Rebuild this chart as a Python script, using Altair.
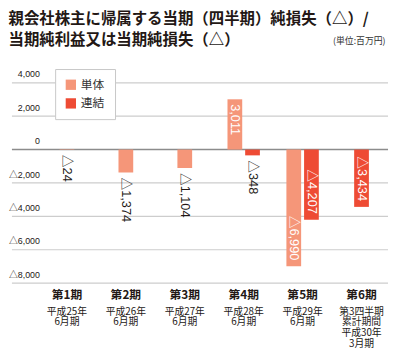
import altair as alt
import pandas as pd

# ---- data ----
periods = ["第1期", "第2期", "第3期", "第4期", "第5期", "第6期"]
period_sub = ["平成25年|6月期", "平成26年|6月期", "平成27年|6月期",
              "平成28年|6月期", "平成29年|6月期", "第3四半期|累計期間|平成30年|3月期"]
series_names = ["単体", "連結"]
tantai = [-24, -1374, -1104, 3011, -6990, None]
renketsu = [None, None, None, -348, -4207, -3434]
y_ticks = [-8000, -6000, -4000, -2000, 0, 2000, 4000]

rows = []
for i, p in enumerate(periods):
    pair = tantai[i] is not None and renketsu[i] is not None
    for name, vals, side in (("単体", tantai, "L"), ("連結", renketsu, "R")):
        v = vals[i]
        if v is None:
            continue
        rows.append({"period": p, "series": name, "v": v, "slot": side if pair else "C"})
df = pd.DataFrame(rows)
sub_df = pd.DataFrame({"period": periods, "sub": period_sub})
grid_df = pd.DataFrame({"v": y_ticks})

FONT = "Noto Sans CJK JP"
NUMFONT = "Liberation Sans, Noto Sans CJK JP"
DARK = "#231815"
W, H = 383, 221

x_scale = alt.Scale(type="band", domain=periods, paddingInner=1/6, paddingOuter=0.275, align=0.94)
x_main = alt.X("period:N", sort=periods, scale=x_scale,
               axis=alt.Axis(title=None, domain=False, ticks=False, grid=False,
                             labelAngle=0, labelFont=FONT, labelFontSize=12,
                             labelFontWeight="bold", labelColor=DARK, labelPadding=7,
                             labelBaseline="top"))
y_axis = alt.Axis(values=y_ticks, grid=False,
                  domain=False, ticks=False, tickSize=0, labelOverlap=False,
                  labelAlign="right", labelPadding=-28, labelBaseline="alphabetic",
                  labelOffset=-6, labelFont=NUMFONT, labelFontSize=9, labelColor=DARK,
                  labelExpr="datum.value < 0 ? '△' + format(-datum.value, ',') : format(datum.value, ',')",
                  title="(単位:百万円)", titleAngle=0, titleAlign="right",
                  titleBaseline="alphabetic", titleX=380, titleY=-23,
                  titleFont=FONT, titleFontSize=9, titleFontWeight="normal",
                  titleColor="#333333")
y_scale = alt.Scale(domain=[-8000, 5000], nice=False, zero=False)
y_enc = alt.Y("v:Q", scale=y_scale, axis=y_axis)
color_enc = alt.Color("series:N", sort=series_names,
                      scale=alt.Scale(domain=series_names, range=["#F59679", "#EE4B34"]),
                      legend=alt.Legend(title=None, orient="none", legendX=44, legendY=3,
                                        fillColor="white", strokeColor="#c8c8c8", padding=10,
                                        symbolType="square", symbolSize=110, symbolStrokeWidth=0,
                                        labelFont=FONT, labelFontSize=12, labelColor="#333333",
                                        rowPadding=7))
xoff = alt.XOffset("slot:N", scale=alt.Scale(domain=["L", "R"], paddingInner=1/6, paddingOuter=0.472))

# horizontal gridlines (light, dotted look approximated) and the solid zero line
grid = alt.Chart(grid_df).transform_filter("datum.v != 0").mark_rule(
    strokeWidth=1.2, color="#cdcdcd").encode(y=y_enc)
zero = alt.Chart(grid_df).transform_filter("datum.v == 0").mark_rule(
    strokeWidth=1.5, color="#8c8c8c").encode(y=y_enc)

base = alt.Chart(df).transform_calculate(
    label="datum.v < 0 ? '△' + format(-datum.v, ',') : format(datum.v, ',')",
    inside="abs(datum.v) >= 2000",
)

single = base.transform_filter("datum.slot == 'C'")
paired = base.transform_filter("datum.slot != 'C'")

bars_single = single.mark_bar(width=15).encode(x=x_main, y=y_enc, color=color_enc)
bars_pair = paired.mark_bar().encode(x=x_main, xOffset=xoff, y=y_enc, color=color_enc)

def labels(src, with_offset):
    enc = dict(x=x_main, y=y_enc, text="label:N",
               color=alt.condition("datum.inside", alt.value("white"), alt.value(DARK)))
    if with_offset:
        enc["xOffset"] = xoff
    a = src.transform_filter("datum.v > 0 || abs(datum.v) < 2000").mark_text(
        angle=90, align="left", baseline="middle", dx=5, font=NUMFONT, fontSize=13).encode(**enc)
    b = src.transform_filter("datum.v < 0 && abs(datum.v) >= 2000").mark_text(
        angle=90, align="right", baseline="middle", dx=-6, font=NUMFONT, fontSize=13).encode(**enc)
    return [a, b]

# second line(s) of the category labels, under the bold period names
sub_text = alt.Chart(sub_df).mark_text(
    baseline="top", align="center", lineBreak="|", font=FONT, fontSize=10, lineHeight=11,
    color=DARK).encode(x=x_main, y=alt.value(H + 24), text="sub:N")

chart = alt.layer(grid, zero, bars_single, bars_pair, *labels(single, False),
                  *labels(paired, True), sub_text).properties(
    width=W, height=H, padding=0,
    title=alt.TitleParams(
        text=["親会社株主に帰属する当期（四半期）純損失（△）/", "当期純利益又は当期純損失（△）"],
        anchor="start", font=FONT, fontSize=15.7, fontWeight="bold", lineHeight=21,
        color=DARK, offset=-12),
).configure_view(stroke=None)

chart.save("out.html", embed_options={"renderer": "svg", "actions": False})
